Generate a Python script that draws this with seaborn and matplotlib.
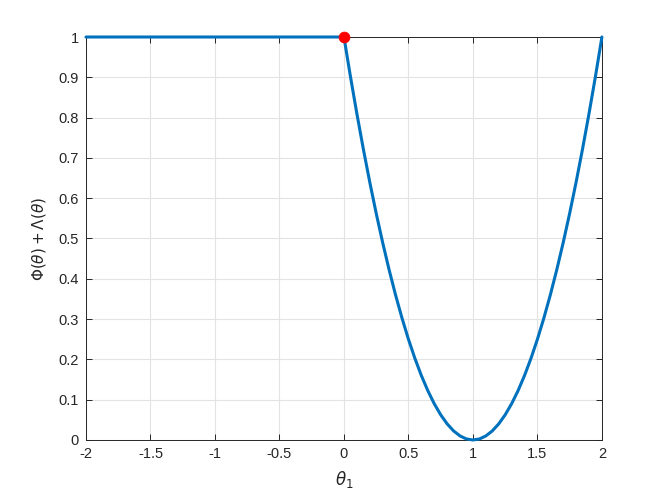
import seaborn as sns
import matplotlib.pyplot as plt
import numpy as np
import pandas as pd

# flat part of the curve (theta_1 <= 0)
flat_theta = [-2.0, -1.5, -1.0, -0.5, 0.0]
flat_value = [1.0, 1.0, 1.0, 1.0, 1.0]

# parabolic part (theta_1 in [0, 2])
curve_theta = [0.0, 0.05, 0.1, 0.15, 0.2, 0.25, 0.3, 0.35, 0.4, 0.45, 0.5,
               0.55, 0.6, 0.65, 0.7, 0.75, 0.8, 0.85, 0.9, 0.95, 1.0,
               1.05, 1.1, 1.15, 1.2, 1.25, 1.3, 1.35, 1.4, 1.45, 1.5,
               1.55, 1.6, 1.65, 1.7, 1.75, 1.8, 1.85, 1.9, 1.95, 2.0]
curve_value = [1.0, 0.9025, 0.81, 0.7225, 0.64, 0.5625, 0.49, 0.4225, 0.36, 0.3025, 0.25,
               0.2025, 0.16, 0.1225, 0.09, 0.0625, 0.04, 0.0225, 0.01, 0.0025, 0.0,
               0.0025, 0.01, 0.0225, 0.04, 0.0625, 0.09, 0.1225, 0.16, 0.2025, 0.25,
               0.3025, 0.36, 0.4225, 0.49, 0.5625, 0.64, 0.7225, 0.81, 0.9025, 1.0]

# the red dot at the kink
kink_theta = [0.0]
kink_value = [1.0]

x_ticks = [-2, -1.5, -1, -0.5, 0, 0.5, 1, 1.5, 2]
x_labels = ['-2', '-1.5', '-1', '-0.5', '0', '0.5', '1', '1.5', '2']
y_ticks = [0, 0.1, 0.2, 0.3, 0.4, 0.5, 0.6, 0.7, 0.8, 0.9, 1]
y_labels = ['0', '0.1', '0.2', '0.3', '0.4', '0.5', '0.6', '0.7', '0.8', '0.9', '1']

df = pd.DataFrame({'theta': flat_theta + curve_theta[1:],
                   'value': flat_value + curve_value[1:]})
kink = pd.DataFrame({'theta': kink_theta, 'value': kink_value})

sns.set_style('white')
plt.rcParams['font.family'] = ['Liberation Sans', 'DejaVu Sans']
plt.rcParams['mathtext.fontset'] = 'dejavusans'

fig = plt.figure(figsize=(6.64, 4.98), dpi=100)
ax = fig.add_axes([0.1295, 0.1165, 0.777, 0.8092])

sns.lineplot(data=df, x='theta', y='value', estimator=None, sort=False,
             color='#0072BD', linewidth=2.2, ax=ax, zorder=3)
for ln in ax.lines:
    ln.set_clip_on(False)
sns.scatterplot(data=kink, x='theta', y='value', color='#FF0000', s=60,
                edgecolor='#FF0000', ax=ax, zorder=4, clip_on=False)

ax.set_xlim(-2, 2)
ax.set_ylim(0, 1)
ax.set_xticks(x_ticks)
ax.set_xticklabels(x_labels)
ax.set_yticks(y_ticks)
ax.set_yticklabels(y_labels)
ax.grid(True, color='#e3e3e3', linewidth=0.8)
ax.set_axisbelow(True)
for s in ax.spines.values():
    s.set_color('#262626')
    s.set_linewidth(0.7)
    s.set_zorder(2)
ax.tick_params(direction='in', length=4, width=0.7, color='#262626',
               labelsize=10.5, labelcolor='#262626', top=True, right=True,
               bottom=True, left=True, pad=5)

ax.set_xlabel(r'$\theta_1$', fontsize=12, color='#262626', labelpad=6)
ax.set_ylabel(r'$\Phi(\theta) + \Lambda(\theta)$', fontsize=11, color='#262626', labelpad=8)

fig.savefig('out.png', dpi=100)
